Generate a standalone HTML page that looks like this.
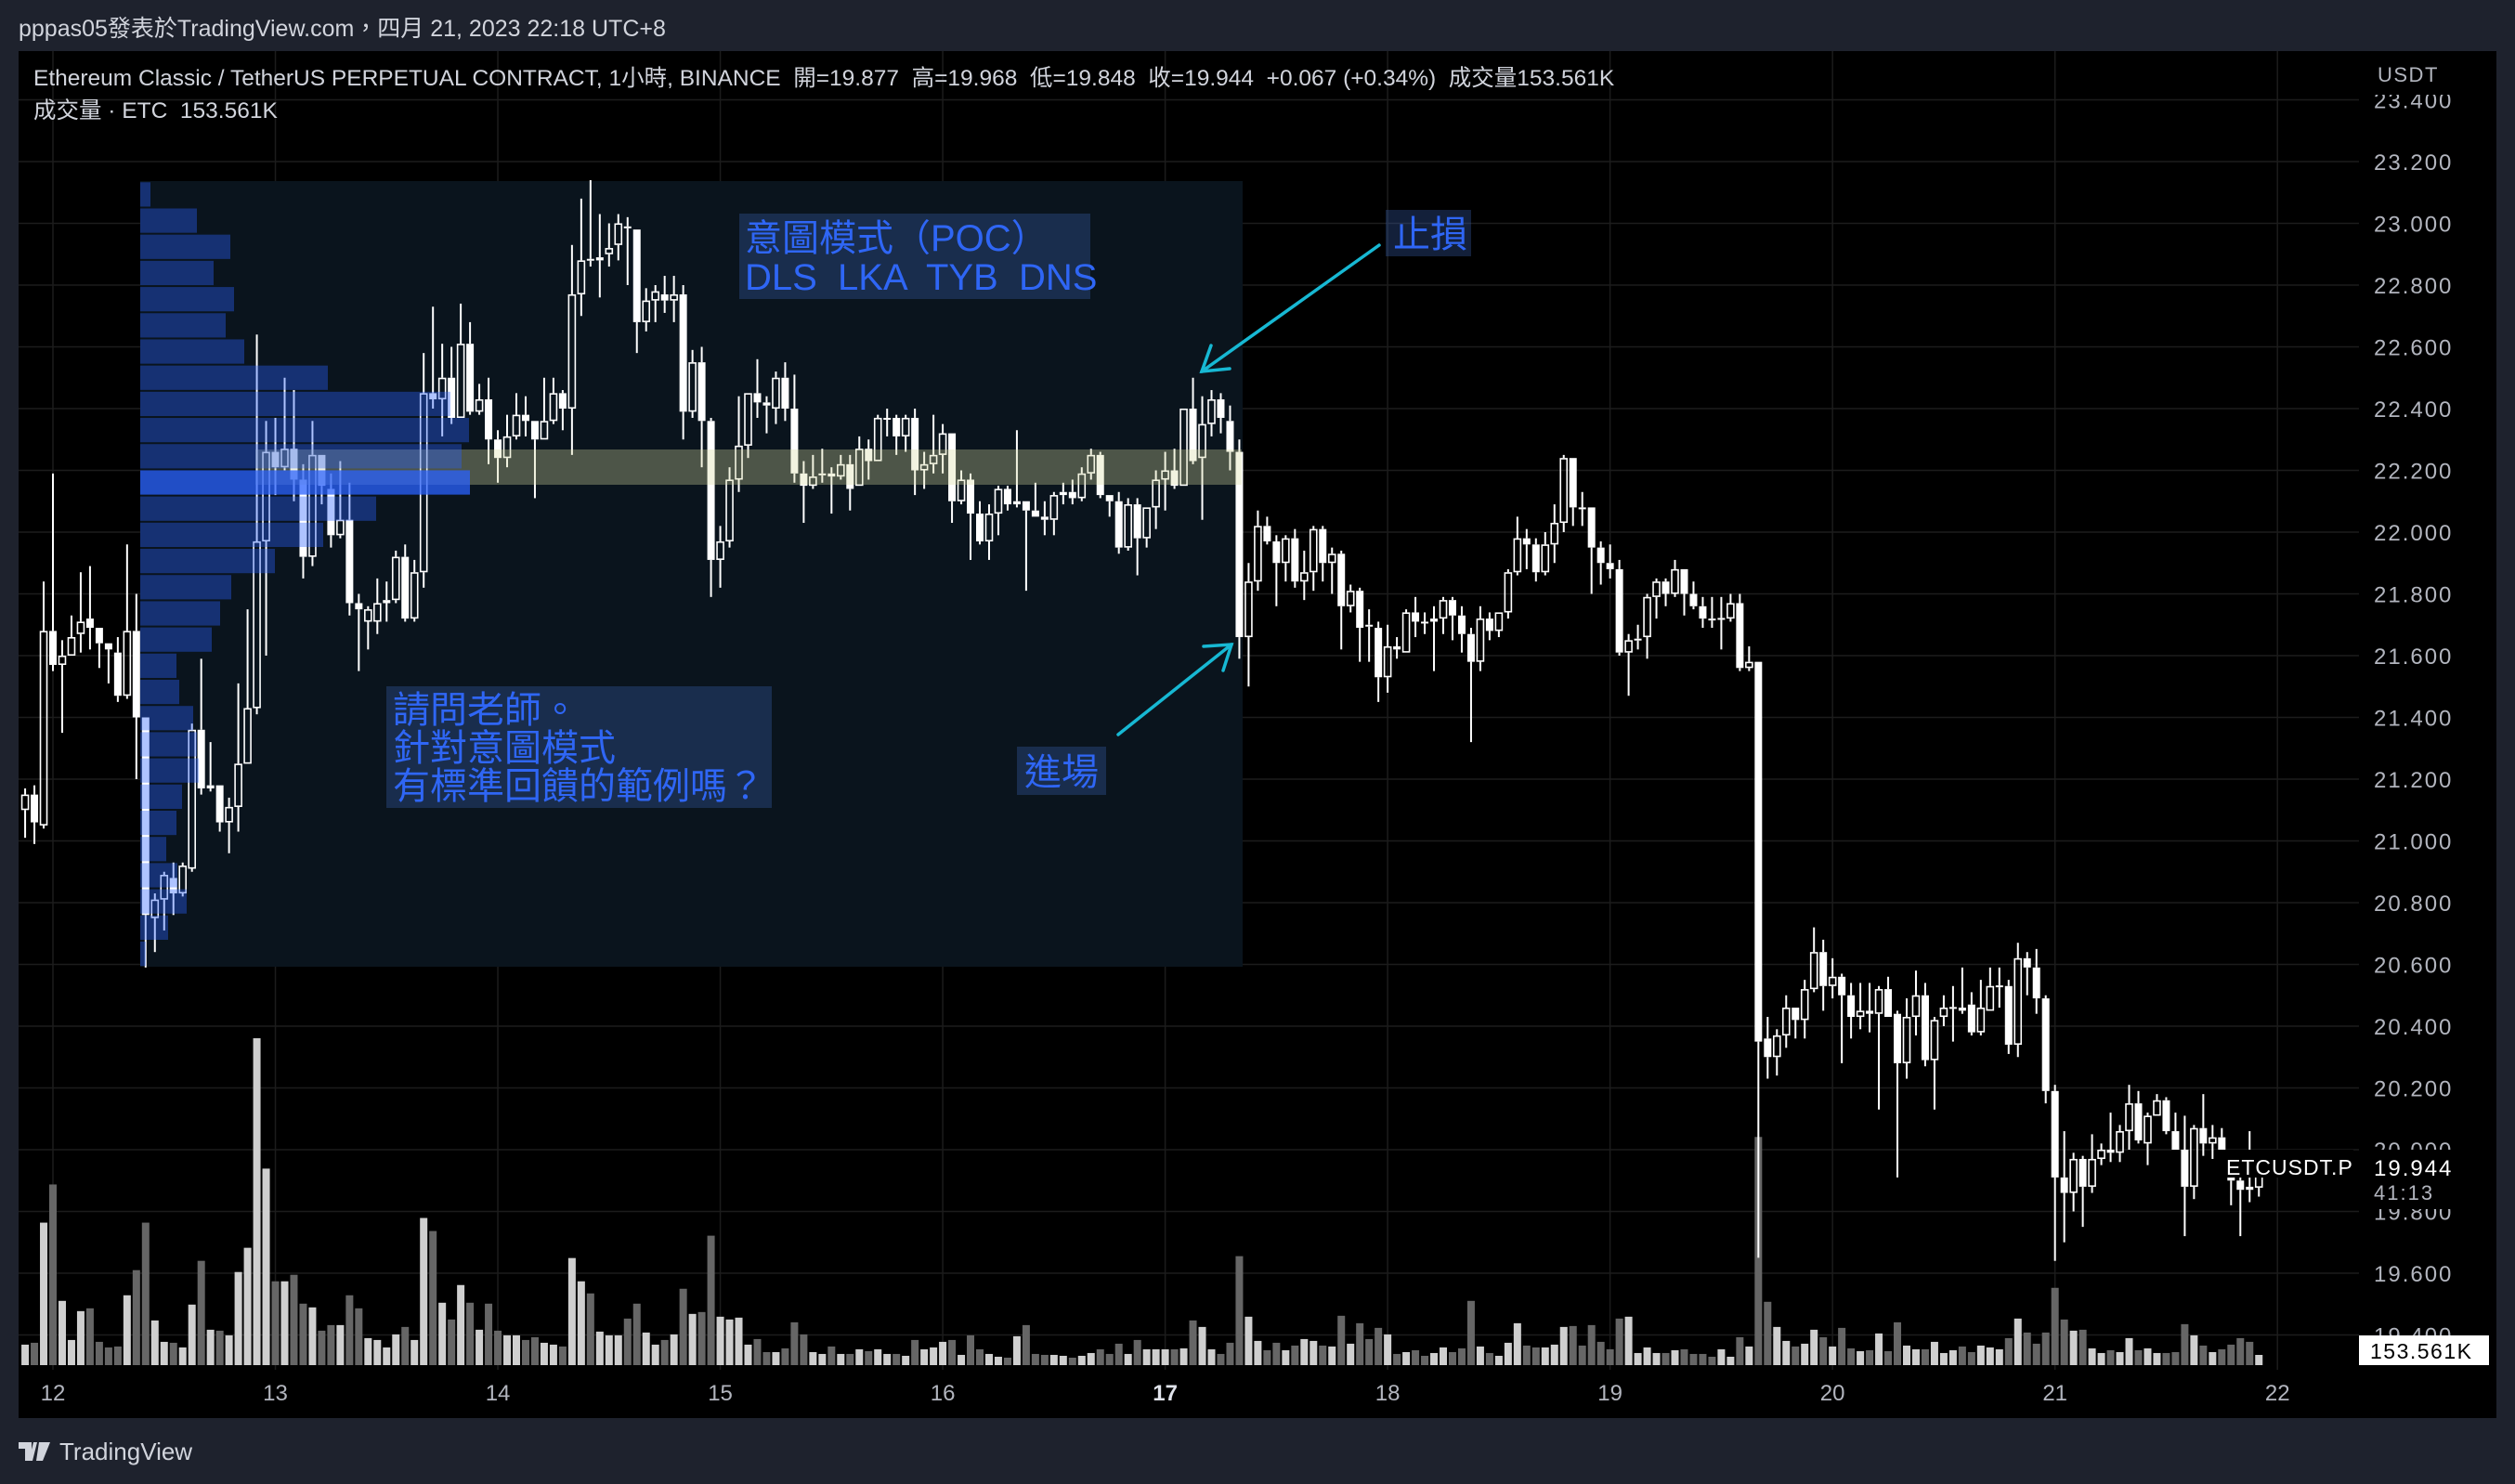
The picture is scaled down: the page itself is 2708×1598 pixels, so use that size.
<!DOCTYPE html>
<html><head><meta charset="utf-8"><style>
html,body{margin:0;padding:0;background:#1e222d;}
svg{display:block;}
text{font-family:"Liberation Sans","Noto Sans CJK TC",sans-serif;white-space:pre;}
</style></head><body>
<svg id="chart" width="2708" height="1598" viewBox="0 0 2708 1598" xmlns="http://www.w3.org/2000/svg" xml:space="preserve">
<rect x="0" y="0" width="2708" height="1598" fill="#1e222d"/>
<text x="20" y="39" font-size="25" fill="#d1d4dc">pppas05發表於TradingView.com，四月 21, 2023 22:18 UTC+8</text>
<rect x="20" y="55" width="2668" height="1472" fill="#000"/>
<g id="grid"></g>
<rect x="151" y="195" width="1187" height="846" fill="#0a141d"/>
<g id="vols"></g>
<g id="candles"></g>
<rect x="275" y="484" width="1062" height="38" fill="rgba(215,220,160,0.33)"/>
<g id="profile"></g>
<g id="yaxis"></g>
<g id="xaxis"></g>
<rect x="2540" y="56" width="147" height="46" fill="#000"/>
<text x="2560" y="88" font-size="22" fill="#b2b5be" letter-spacing="1.5">USDT</text>
<rect x="2540" y="1238" width="147" height="64" fill="#000"/>
<text x="2556" y="1266" font-size="24" fill="#ffffff" letter-spacing="2">19.944</text>
<text x="2556" y="1292" font-size="22" fill="#b2b5be" letter-spacing="2">41:13</text>
<rect x="2384" y="1238" width="150" height="30" fill="#000"/>
<text x="2397" y="1265" font-size="23" fill="#ffffff" letter-spacing="1">ETCUSDT.P</text>
<rect x="2540" y="1438" width="140" height="32" fill="#ffffff"/>
<text x="2552" y="1463" font-size="23" fill="#000" letter-spacing="1.5">153.561K</text>
<text x="36" y="92" font-size="24.5" fill="#d1d4dc">Ethereum Classic / TetherUS PERPETUAL CONTRACT, 1小時, BINANCE  開=19.877  高=19.968  低=19.848  收=19.944  +0.067 (+0.34%)  成交量153.561K</text>
<text x="36" y="127" font-size="24.5" fill="#d1d4dc">成交量 · ETC  153.561K</text>
<g>
<rect x="796" y="230" width="378" height="92" fill="rgba(60,100,180,0.32)"/>
<text x="802" y="270" font-size="40" fill="#2f66f5">意圖模式（POC）</text>
<text x="802" y="312" font-size="40" fill="#2f66f5">DLS  LKA  TYB  DNS</text>
</g>
<g>
<rect x="1492" y="226" width="92" height="50" fill="rgba(60,100,180,0.32)"/>
<text x="1500" y="266" font-size="40" fill="#2f66f5">止損</text>
</g>
<g>
<rect x="416" y="739" width="415" height="131" fill="rgba(60,100,180,0.32)"/>
<text x="423" y="778" font-size="40" fill="#2f66f5">請問老師。</text>
<text x="423" y="819" font-size="40" fill="#2f66f5">針對意圖模式</text>
<text x="423" y="860" font-size="40" fill="#2f66f5">有標準回饋的範例嗎？</text>
</g>
<g>
<rect x="1095" y="804" width="96" height="52" fill="rgba(60,100,180,0.32)"/>
<text x="1103" y="845" font-size="40" fill="#2f66f5">進場</text>
</g>
<g stroke="#17b8d3" stroke-width="3.5" fill="none" stroke-linecap="round">
<line x1="1485" y1="264" x2="1294" y2="400"/><polyline points="1304,372 1294,400 1324,397"/>
</g>
<g stroke="#17b8d3" stroke-width="3.5" fill="none" stroke-linecap="round">
<line x1="1204" y1="791" x2="1326" y2="694"/><polyline points="1296,696 1326,694 1317,722"/>
</g>
<g>
<path d="M20 1553 h14 v20 h-7 v-13 h-7z M36 1553 h4 l-5 20 h-4z M42 1553 h12 l-8 20 h-7z" fill="#d1d4dc"/>
<text x="64" y="1572" font-size="26" fill="#d1d4dc">TradingView</text>
</g>
</svg>
<script>
const opens=[21.10,21.15,21.05,21.68,21.57,21.60,21.67,21.72,21.69,21.64,21.61,21.47,21.68,21.40,20.75,20.81,20.88,20.83,20.91,21.36,21.17,21.18,21.06,21.11,21.25,21.43,21.97,22.26,22.21,22.27,22.17,21.92,22.25,22.14,21.99,22.04,21.77,21.71,21.71,21.77,21.78,21.92,21.72,21.87,22.45,22.43,22.50,22.37,22.61,22.39,22.43,22.30,22.24,22.31,22.38,22.36,22.30,22.36,22.45,22.40,22.77,22.885,22.88,22.90,22.93,22.99,22.98,22.68,22.75,22.77,22.75,22.77,22.39,22.55,22.36,21.91,21.97,22.17,22.28,22.45,22.42,22.40,22.50,22.40,22.19,22.15,22.19,22.19,22.18,22.22,22.15,22.27,22.23,22.37,22.37,22.31,22.37,22.20,22.22,22.25,22.32,22.10,22.17,22.06,21.97,22.06,22.14,22.09,22.10,22.07,22.05,22.04,22.12,22.13,22.11,22.19,22.25,22.12,22.10,21.95,22.09,21.98,22.08,22.17,22.20,22.15,22.40,22.24,22.35,22.43,22.36,22.26,21.66,21.84,22.02,21.97,21.90,21.98,21.84,21.87,22.01,21.90,21.93,21.76,21.81,21.70,21.69,21.53,21.63,21.61,21.74,21.71,21.71,21.72,21.78,21.73,21.67,21.58,21.72,21.68,21.74,21.87,21.98,21.96,21.87,21.96,22.03,22.24,22.08,22.08,21.95,21.90,21.88,21.61,21.65,21.66,21.79,21.84,21.80,21.88,21.80,21.76,21.72,21.72,21.72,21.77,21.56,21.58,20.36,20.30,20.37,20.46,20.42,20.52,20.64,20.53,20.56,20.50,20.43,20.45,20.44,20.52,20.44,20.28,20.43,20.50,20.29,20.43,20.46,20.46,20.47,20.38,20.45,20.53,20.53,20.34,20.62,20.59,20.49,20.19,19.91,19.86,19.97,19.88,19.97,20.00,19.99,20.06,20.15,20.02,20.11,20.16,20.06,20.00,19.88,20.07,20.02,20.04,19.99,19.90,19.88,19.877];
const highs=[21.17,21.18,21.84,22.19,21.65,21.73,21.87,21.89,21.69,21.64,21.66,21.96,21.80,21.40,20.83,20.90,20.93,20.93,21.38,21.59,21.32,21.18,21.14,21.51,21.75,22.64,22.36,22.37,22.50,22.46,22.22,22.36,22.25,22.19,22.23,22.16,21.80,21.76,21.85,21.84,21.94,21.96,21.91,22.58,22.73,22.61,22.60,22.74,22.68,22.48,22.50,22.33,22.38,22.45,22.44,22.36,22.50,22.50,22.46,22.93,23.08,23.14,23.03,23.00,23.03,23.02,22.98,22.79,22.80,22.83,22.83,22.80,22.59,22.60,22.37,22.02,22.21,22.44,22.45,22.56,22.44,22.52,22.55,22.51,22.23,22.25,22.27,22.21,22.25,22.25,22.31,22.30,22.38,22.40,22.38,22.38,22.40,22.26,22.38,22.35,22.32,22.20,22.19,22.10,22.09,22.15,22.15,22.33,22.10,22.16,22.10,22.13,22.16,22.17,22.21,22.27,22.26,22.12,22.13,22.11,22.11,22.08,22.20,22.26,22.27,22.40,22.50,22.44,22.46,22.45,22.41,22.30,21.90,22.07,22.05,21.99,21.99,22.01,21.94,22.02,22.02,21.95,21.94,21.83,21.82,21.75,21.71,21.70,21.66,21.75,21.79,21.74,21.76,21.79,21.79,21.76,21.69,21.76,21.74,21.74,21.88,22.05,22.01,21.98,22.00,22.09,22.25,22.24,22.13,22.08,21.97,21.96,21.91,21.67,21.70,21.80,21.85,21.85,21.91,21.88,21.84,21.79,21.79,21.79,21.80,21.80,21.63,21.58,20.43,20.39,20.50,20.46,20.55,20.72,20.68,20.62,20.57,20.54,20.54,20.54,20.53,20.56,20.45,20.49,20.58,20.54,20.43,20.50,20.53,20.59,20.51,20.55,20.59,20.59,20.55,20.67,20.64,20.65,20.50,20.21,20.06,19.99,19.98,20.05,20.02,20.12,20.08,20.21,20.19,20.12,20.18,20.17,20.12,20.11,20.08,20.18,20.08,20.07,20.00,19.93,20.06,19.968];
const lows=[21.01,20.99,21.04,21.55,21.35,21.60,21.61,21.62,21.56,21.51,21.45,21.46,21.20,20.59,20.64,20.71,20.76,20.82,20.90,21.15,21.16,21.03,20.96,21.03,21.25,21.41,21.60,22.12,22.20,22.10,21.85,21.89,22.09,21.95,21.98,21.73,21.55,21.62,21.67,21.71,21.77,21.71,21.71,21.82,22.40,22.31,22.35,22.37,22.38,22.38,22.22,22.16,22.21,22.30,22.31,22.11,22.30,22.35,22.33,22.25,22.70,22.86,22.76,22.86,22.88,22.80,22.58,22.65,22.68,22.71,22.68,22.30,22.37,22.21,21.79,21.82,21.95,22.13,22.24,22.37,22.32,22.35,22.36,22.16,22.03,22.14,22.16,22.06,22.17,22.07,22.15,22.17,22.23,22.31,22.25,22.26,22.12,22.14,22.19,22.19,22.03,22.09,21.91,21.96,21.91,21.99,22.07,22.08,21.81,22.05,21.99,21.99,22.09,22.09,22.10,22.17,22.11,22.05,21.93,21.94,21.86,21.95,22.01,22.07,22.14,22.15,22.22,22.04,22.31,22.32,22.20,21.59,21.50,21.81,21.96,21.76,21.84,21.82,21.78,21.81,21.84,21.80,21.62,21.74,21.58,21.58,21.45,21.48,21.59,21.61,21.66,21.67,21.55,21.67,21.65,21.61,21.32,21.55,21.65,21.66,21.72,21.86,21.88,21.84,21.86,21.90,22.00,22.02,22.02,21.80,21.83,21.85,21.60,21.47,21.62,21.59,21.72,21.76,21.79,21.73,21.75,21.69,21.69,21.62,21.71,21.55,21.55,19.65,20.23,20.24,20.33,20.36,20.36,20.51,20.45,20.49,20.28,20.36,20.39,20.38,20.13,20.43,19.91,20.23,20.37,20.27,20.13,20.40,20.35,20.44,20.37,20.37,20.45,20.46,20.31,20.30,20.50,20.44,20.15,19.64,19.70,19.80,19.75,19.86,19.95,19.96,19.96,20.00,20.02,19.95,20.11,20.05,20.00,19.72,19.84,19.98,19.97,19.99,19.82,19.72,19.83,19.848];
const closes=[21.15,21.06,21.68,21.57,21.60,21.66,21.71,21.69,21.64,21.62,21.47,21.68,21.40,20.76,20.81,20.89,20.83,20.92,21.36,21.17,21.18,21.06,21.11,21.25,21.43,21.97,22.26,22.21,22.27,22.17,21.92,22.25,22.15,21.99,22.04,21.77,21.75,21.75,21.77,21.78,21.92,21.72,21.87,22.45,22.43,22.50,22.37,22.61,22.39,22.43,22.30,22.24,22.31,22.38,22.36,22.30,22.36,22.45,22.40,22.77,22.88,22.88,22.89,22.92,23.00,22.985,22.68,22.75,22.78,22.75,22.77,22.39,22.55,22.36,21.91,21.97,22.17,22.28,22.45,22.42,22.41,22.50,22.40,22.19,22.15,22.18,22.19,22.18,22.22,22.14,22.27,22.23,22.37,22.37,22.31,22.37,22.20,22.22,22.25,22.32,22.10,22.17,22.06,21.97,22.06,22.14,22.09,22.10,22.07,22.05,22.04,22.12,22.13,22.11,22.19,22.25,22.12,22.10,21.95,22.09,21.98,22.08,22.17,22.20,22.15,22.40,22.23,22.35,22.43,22.37,22.26,21.66,21.84,22.02,21.97,21.90,21.98,21.84,21.87,22.01,21.90,21.93,21.76,21.81,21.69,21.695,21.53,21.63,21.62,21.74,21.71,21.705,21.72,21.78,21.73,21.67,21.58,21.72,21.68,21.74,21.87,21.98,21.96,21.87,21.96,22.03,22.24,22.08,22.075,21.95,21.90,21.88,21.61,21.65,21.655,21.79,21.84,21.80,21.88,21.80,21.76,21.72,21.715,21.722,21.77,21.56,21.58,20.35,20.30,20.37,20.46,20.42,20.52,20.64,20.53,20.56,20.50,20.43,20.45,20.44,20.52,20.43,20.28,20.43,20.50,20.29,20.42,20.46,20.462,20.45,20.38,20.46,20.53,20.532,20.34,20.62,20.59,20.49,20.19,19.91,19.86,19.97,19.88,19.97,20.00,19.99,20.06,20.15,20.03,20.11,20.16,20.06,20.00,19.88,20.07,20.02,20.04,19.99,19.90,19.87,19.87,19.944];
const volumes=[308,336,2142,2716,966,378,812,854,350,266,280,1050,1428,2142,672,350,336,266,910,1568,532,518,448,1400,1764,4914,2954,1260,1260,1358,924,868,518,602,602,1050,854,406,378,266,462,574,378,2212,2016,938,686,1204,938,532,924,518,448,448,378,420,336,308,280,1610,1260,1078,504,448,
448,700,924,490,308,378,462,1148,770,798,1946,728,686,714,308,392,196,196,252,644,462,196,168,280,168,168,238,210,238,168,168,140,378,238,266,350,378,154,448,238,168,126,112,434,602,168,154,154,140,112,140,182,238,168,322,168,378,238,238,238,238,252,672,574,238,168,
336,1638,728,364,224,336,224,294,392,364,294,280,742,322,630,392,560,462,168,196,224,140,182,266,196,252,966,280,182,140,336,630,294,266,266,308,574,588,294,602,350,238,700,728,182,266,182,182,224,238,168,168,126,238,126,420,280,3430,952,574,
364,280,322,532,420,280,560,252,210,224,476,210,644,294,238,238,350,182,224,280,196,294,266,238,406,700,490,322,490,1162,686,518,532,252,182,224,196,406,224,252,182,182,196,616,448,294,196,238,308,406,350,153.561];
const priceTicks=[23.4,23.2,23.0,22.8,22.6,22.4,22.2,22.0,21.8,21.6,21.4,21.2,21.0,20.8,20.6,20.4,20.2,20.0,19.8,19.6,19.4];
const dayLabels=["12","13","14","15","16","17","18","19","20","21","22"];
const dayStartIndex=[3,27,51,75,99,123,147,171,195,219,243];
const profileVolumes=[11,61,97,79,101,92,112,202,334,354,346,355,254,197,145,98,86,77,39,42,57,61,63,45,39,28,40,50,30,6];
const profileTop=23.136, profileBottom=20.592, pocRow=11;

const NS="http://www.w3.org/2000/svg";
const xOf=i=>57+(i-3)*9.98;
const yOf=p=>174+(23.2-p)*332.5;
const vH=v=>v*(11/153.561);
const VBASE=1470;
function mk(tag,attrs,parent){const e=document.createElementNS(NS,tag);for(const k in attrs)e.setAttribute(k,attrs[k]);parent.appendChild(e);return e;}
const grid=document.getElementById('grid');
priceTicks.forEach(p=>{const l=mk('line',{x1:20,x2:2540,y1:yOf(p),y2:yOf(p),stroke:'#1c1c1c','stroke-width':1.5},grid);

});
dayStartIndex.forEach(i=>{const l=mk('line',{x1:xOf(i),x2:xOf(i),y1:55,y2:1475,stroke:'#1c1c1c','stroke-width':1.5},grid);

});
const ya=document.getElementById('yaxis');
priceTicks.forEach(p=>{const t=mk('text',{x:2556,y:yOf(p)+9,'font-size':24,fill:'#b2b5be','letter-spacing':2},ya);t.textContent=p.toFixed(3);

});
const xa=document.getElementById('xaxis');
dayLabels.forEach((d,k)=>{const t=mk('text',{x:xOf(dayStartIndex[k]),y:1508,'font-size':24,fill:d==='17'?'#e0e3eb':'#b2b5be','font-weight':d==='17'?'bold':'normal','text-anchor':'middle'},xa);t.textContent=d;

});
const vg=document.getElementById('vols');
volumes.forEach((v,i)=>{const up=closes[i]>=opens[i];const h=vH(v);const r=mk('rect',{x:xOf(i)-4,y:VBASE-h,width:8,height:h,fill:up?'#cfcfcf':'#666666'},vg);

});
const cg=document.getElementById('candles');
closes.forEach((c,i)=>{const o=opens[i],x=xOf(i),up=c>=o;const top=yOf(Math.max(o,c)),bot=yOf(Math.min(o,c));const bh=Math.max(bot-top,2);
const g=mk('g',{},cg);


mk('line',{x1:x,x2:x,y1:yOf(highs[i]),y2:top,stroke:'#fff','stroke-width':2},g);
mk('line',{x1:x,x2:x,y1:top+bh,y2:yOf(lows[i]),stroke:'#fff','stroke-width':2},g);
if(up&&bh>4)mk('rect',{x:x-3.5,y:top+0.75,width:7,height:bh-1.5,fill:'none',stroke:'#fff','stroke-width':1.6},g);
else mk('rect',{x:x-4,y:top,width:8,height:bh,fill:'#fff'},g);});
const pg=document.getElementById('profile');
const rowH=(yOf(profileBottom)-yOf(profileTop))/profileVolumes.length;
profileVolumes.forEach((w,k)=>{const r=mk('rect',{x:151,y:yOf(profileTop)+k*rowH+1,width:w,height:rowH-2,fill:k===pocRow?'rgba(41,98,255,0.75)':'rgba(41,98,255,0.38)'},pg);

});
</script>
</body></html>
